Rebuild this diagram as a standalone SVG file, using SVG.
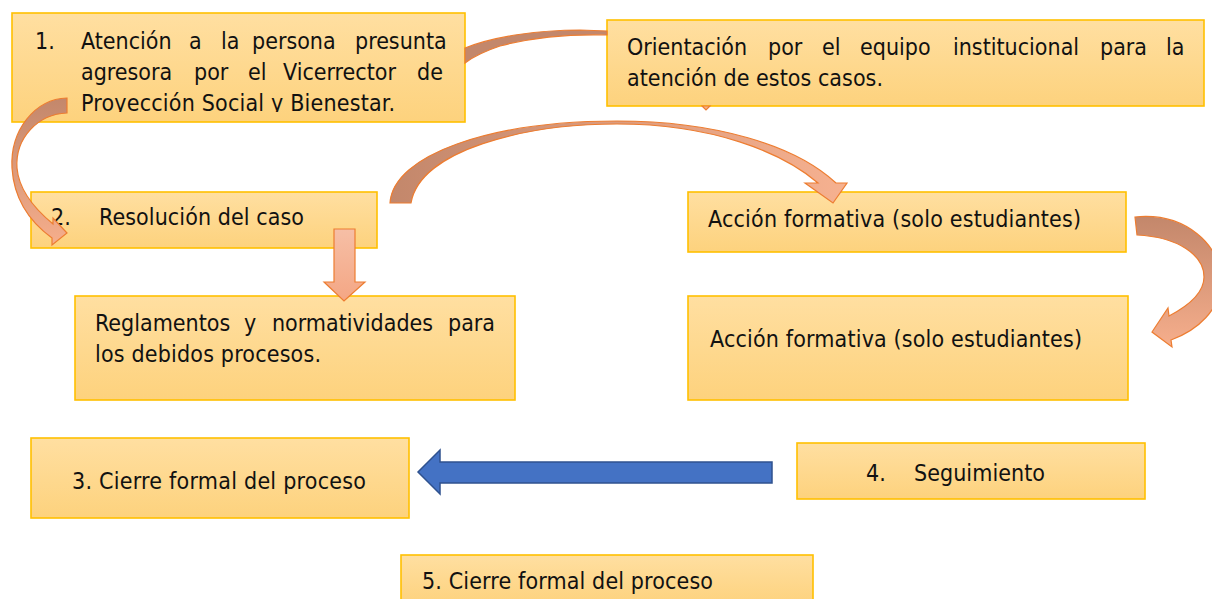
<svg xmlns="http://www.w3.org/2000/svg" width="1212" height="599" viewBox="0 0 1212 599">
<style>
.box{fill:url(#boxg);stroke:#FFC000;stroke-width:1.6}
.t{font-family:'DejaVu Sans Condensed','DejaVu Sans',sans-serif;font-stretch:condensed;font-size:23px;fill:#111}
.carrow{stroke:#ED7D31;stroke-width:1.2;stroke-linejoin:miter}
</style>
<defs>
<linearGradient id="boxg" x1="0" y1="0" x2="0" y2="1">
<stop offset="0" stop-color="#FFDFA1"/><stop offset="1" stop-color="#FDD27D"/>
</linearGradient>
<linearGradient id="gH" x1="0" y1="0" x2="1" y2="0">
<stop offset="0" stop-color="#C3876B"/><stop offset="1" stop-color="#F6B190"/>
</linearGradient>
<linearGradient id="gV" x1="0" y1="0" x2="0" y2="1">
<stop offset="0" stop-color="#C3876B"/><stop offset="1" stop-color="#F6AE8C"/>
</linearGradient>
<linearGradient id="gD" x1="0" y1="0" x2="0" y2="1">
<stop offset="0" stop-color="#F6BFA6"/><stop offset="1" stop-color="#F4A684"/>
</linearGradient>
<clipPath id="clip1"><rect x="12" y="13" width="453" height="99"/></clipPath>
</defs>

<g id="node1">
<rect class="box" x="12" y="13" width="453" height="109"/>
<g clip-path="url(#clip1)">
<text class="t" y="49"><tspan x="35">1.</tspan><tspan x="81">Atención</tspan><tspan x="189">a</tspan><tspan x="221">la</tspan><tspan x="252">persona</tspan><tspan x="355">presunta</tspan></text>
<text class="t" y="80"><tspan x="81">agresora</tspan><tspan x="194">por</tspan><tspan x="248">el</tspan><tspan x="283">Vicerrector</tspan><tspan x="417">de</tspan></text>
<text class="t" x="81" y="111" textLength="314" lengthAdjust="spacing">Proyección Social y Bienestar.</text>
</g>
</g>

<g id="node-orientacion">
<rect class="box" x="607" y="20" width="597" height="86"/>
<text class="t" y="55"><tspan x="627">Orientación</tspan><tspan x="768">por</tspan><tspan x="822">el</tspan><tspan x="860">equipo</tspan><tspan x="953">institucional</tspan><tspan x="1100">para</tspan><tspan x="1166">la</tspan></text>
<text class="t" x="627" y="86" textLength="256" lengthAdjust="spacing">atención de estos casos.</text>
</g>

<g id="node2">
<rect class="box" x="31" y="192" width="346" height="56"/>
<text class="t" y="225"><tspan x="51">2.</tspan></text>
<text class="t" x="99" y="225" textLength="205" lengthAdjust="spacing">Resolución del caso</text>
</g>

<g id="node-accion1">
<rect class="box" x="688" y="192" width="438" height="60"/>
<text class="t" x="708" y="227" textLength="373" lengthAdjust="spacing">Acción formativa (solo estudiantes)</text>
</g>

<g id="node-reglamentos">
<rect class="box" x="75" y="296" width="440" height="104"/>
<text class="t" y="331"><tspan x="95">Reglamentos</tspan><tspan x="244">y</tspan><tspan x="272">normatividades</tspan><tspan x="448">para</tspan></text>
<text class="t" x="95" y="362" textLength="226" lengthAdjust="spacing">los debidos procesos.</text>
</g>

<g id="node-accion2">
<rect class="box" x="688" y="296" width="440" height="104"/>
<text class="t" x="710" y="347" textLength="372" lengthAdjust="spacing">Acción formativa (solo estudiantes)</text>
</g>

<g id="node3">
<rect class="box" x="31" y="438" width="378" height="80"/>
<text class="t" x="72" y="489" textLength="294" lengthAdjust="spacing">3. Cierre formal del proceso</text>
</g>

<g id="node4">
<rect class="box" x="797" y="443" width="348" height="56"/>
<text class="t" x="866" y="481">4.</text>
<text class="t" x="914" y="481" textLength="131" lengthAdjust="spacing">Seguimiento</text>
</g>

<g id="node5">
<rect class="box" x="401" y="555" width="412" height="50"/>
<text class="t" x="422" y="589" textLength="291" lengthAdjust="spacing">5. Cierre formal del proceso</text>
</g>

<g id="connectors">
<path class="carrow" fill="#C3876B" d="M465,48 C495,36 540,30 580,30 L607,31 L607,35 C570,34 530,38 500,46 C485,51 473,57 465,63 Z"/>
<path class="carrow" fill="#F4B183" d="M702,106 L710,106 L706,110 Z"/>
<path class="carrow" fill="url(#gV)" d="M67,98 C35,99 10,130 12,168 C14,200 30,222 52,238 L52,245 L67,233 L53,218 L53,224 C36,210 19,192 17,168 C15,138 38,114 67,113 Z"/>
<path class="carrow" fill="url(#gH)" d="M390,203 C393,155 490,121 617,121 C715,121 795,145 836,183 L847,183 L833,203 L805,183 L818,183 C782,152 712,124 617,124 C525,124 420,150 411,203 Z"/>
<path class="carrow" fill="url(#gV)" d="M1135,217 C1185,212 1222,245 1221,282 C1220,310 1198,330 1171,340 L1172,347 L1152,332 L1168,308 L1169,316 C1190,305 1204,292 1204,277 C1204,255 1178,237 1137,235 Z"/>
<path class="carrow" fill="url(#gD)" d="M334,229 L355,229 L355,282 L365,282 L344,301 L324,282 L334,282 Z"/>
<path fill="#4472C4" stroke="#2F528F" stroke-width="1.5" d="M772,462 L440,462 L440,450 L418,472 L440,494 L440,483 L772,483 Z"/>
</g>
</svg>
